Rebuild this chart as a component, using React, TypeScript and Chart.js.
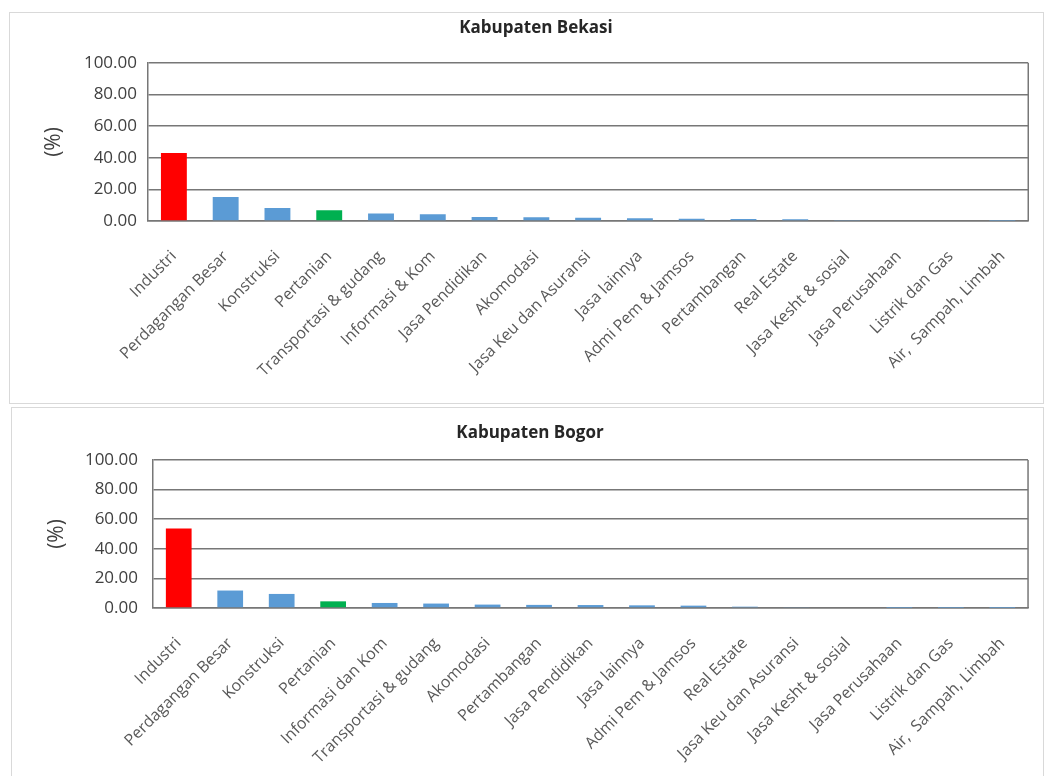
import React, { useEffect, useRef } from 'react';
import { Chart, registerables } from 'chart.js';

Chart.register(...registerables);

// ---- Data ----
const bekasiLabels = [
  'Industri', 'Perdagangan Besar', 'Konstruksi', 'Pertanian', 'Transportasi & gudang',
  'Informasi & Kom', 'Jasa Pendidikan', 'Akomodasi', 'Jasa Keu dan Asuransi', 'Jasa lainnya',
  'Admi Pem & Jamsos', 'Pertambangan', 'Real Estate', 'Jasa Kesht & sosial', 'Jasa Perusahaan',
  'Listrik dan Gas', 'Air,  Sampah, Limbah',
];
const bekasiValues = [43.0, 15.2, 8.3, 6.8, 4.7, 4.3, 2.5, 2.4, 2.1, 1.7, 1.5, 1.3, 1.1, 0.7, 0.4, 0.4, 0.1];

const bogorLabels = [
  'Industri', 'Perdagangan Besar', 'Konstruksi', 'Pertanian', 'Informasi dan Kom',
  'Transportasi & gudang', 'Akomodasi', 'Pertambangan', 'Jasa Pendidikan', 'Jasa lainnya',
  'Admi Pem & Jamsos', 'Real Estate', 'Jasa Keu dan Asuransi', 'Jasa Kesht & sosial',
  'Jasa Perusahaan', 'Listrik dan Gas', 'Air,  Sampah, Limbah',
];
const bogorValues = [53.8, 11.8, 9.5, 4.5, 3.4, 3.0, 2.3, 2.1, 2.0, 1.8, 1.6, 0.9, 0.6, 0.5, 0.1, 0.1, 0.05];

const yMin = 0;
const yMax = 100;
const yStep = 20;
const yAxisTitle = '(%)';

const highlightColors: Record<string, string> = { Industri: '#FF0000', Pertanian: '#00B050' };
const baseColor = '#5B9BD5';
const gridColor = '#777777';
const textColor = '#404040';
const labelColor = '#595959';
const FONT = "'Open Sans', 'Noto Sans', sans-serif";

type PanelProps = {
  title: string;
  labels: string[];
  values: number[];
  box: { left: number; top: number; width: number; height: number; noBottom?: boolean };
  canvasW: number;
  canvasH: number;
  yWidth: number;
  xHeight: number;
  padTop: number;
  padRight: number;
  yTickPad: number;
  yTitlePad: number;
  titleX: number;
  titleTop: number;
};

const rightFrame = {
  id: 'rightFrame',
  beforeDatasetsDraw(chart: any) {
    const { ctx, chartArea } = chart;
    ctx.save();
    ctx.strokeStyle = gridColor;
    ctx.lineWidth = 1.5;
    ctx.beginPath();
    ctx.moveTo(chartArea.right, chartArea.top);
    ctx.lineTo(chartArea.right, chartArea.bottom);
    ctx.stroke();
    ctx.restore();
  },
};

function BarPanel(p: PanelProps) {
  const ref = useRef<HTMLCanvasElement | null>(null);
  useEffect(() => {
    if (!ref.current) return;
    const chart = new Chart(ref.current, {
      type: 'bar',
      data: {
        labels: p.labels,
        datasets: [
          {
            data: p.values,
            backgroundColor: p.labels.map((l) => highlightColors[l] || baseColor),
            borderWidth: 0,
            barPercentage: 0.5,
            categoryPercentage: 1,
          },
        ],
      },
      options: {
        responsive: false,
        animation: false,
        devicePixelRatio: 1,
        layout: { padding: { top: p.padTop, right: p.padRight, left: 0, bottom: 0 } },
        plugins: { legend: { display: false }, tooltip: { enabled: false }, title: { display: false } },
        scales: {
          x: {
            grid: { display: false, drawTicks: false },
            border: { display: true, color: gridColor, width: 1.5 },
            ticks: {
              autoSkip: false,
              maxRotation: 45,
              minRotation: 45,
              padding: 26,
              color: labelColor,
              font: { family: FONT, size: 16 },
            },
            afterFit: (s: any) => {
              s.height = p.xHeight;
            },
          },
          y: {
            min: yMin,
            max: yMax,
            ticks: {
              stepSize: yStep,
              padding: p.yTickPad,
              color: textColor,
              font: { family: FONT, size: 17 },
              callback: (v: any) => Number(v).toFixed(2),
            },
            grid: { color: gridColor, lineWidth: 1.5, drawTicks: false },
            border: { display: true, color: gridColor, width: 1.5 },
            title: {
              display: true,
              text: yAxisTitle,
              color: textColor,
              font: { family: FONT, size: 21 },
              padding: { top: p.yTitlePad, bottom: 0 },
            },
            afterFit: (s: any) => {
              s.width = p.yWidth;
            },
          },
        },
      },
      plugins: [rightFrame],
    } as any);
    return () => chart.destroy();
  }, []);

  return (
    <div
      style={{
        position: 'absolute',
        left: p.box.left,
        top: p.box.top,
        width: p.box.width,
        height: p.box.height,
        boxSizing: 'border-box',
        border: '1px solid #d9d9d9',
        borderBottom: p.box.noBottom ? 'none' : '1px solid #d9d9d9',
        background: '#fff',
      }}
    >
      <canvas
        ref={ref}
        width={p.canvasW}
        height={p.canvasH}
        style={{ position: 'absolute', left: 0, top: 0, width: p.canvasW, height: p.canvasH }}
      />
      <div
        style={{
          position: 'absolute',
          left: p.titleX - p.box.left - 1,
          top: p.titleTop - p.box.top - 1,
          transform: 'translateX(-50%)',
          whiteSpace: 'nowrap',
          fontFamily: FONT,
          fontWeight: 700,
          fontSize: 17,
          lineHeight: '20px',
          color: '#262626',
        }}
      >
        {p.title}
      </div>
    </div>
  );
}

export default function App() {
  return (
    <div style={{ position: 'absolute', left: 0, top: 0, width: 1044, height: 776, overflow: 'hidden' }}>
      <BarPanel
        title="Kabupaten Bekasi"
        labels={bekasiLabels}
        values={bekasiValues}
        box={{ left: 9, top: 12, width: 1035, height: 392 }}
        canvasW={1032}
        canvasH={389}
        yWidth={138}
        xHeight={181}
        padTop={50}
        padRight={2}
        yTickPad={11}
        yTitlePad={31}
        titleX={536}
        titleTop={17}
      />
      <BarPanel
        title="Kabupaten Bogor"
        labels={bogorLabels}
        values={bogorValues}
        box={{ left: 11, top: 407, width: 1033, height: 369, noBottom: true }}
        canvasW={1030}
        canvasH={368}
        yWidth={141}
        xHeight={168}
        padTop={52}
        padRight={4}
        yTickPad={15}
        yTitlePad={32}
        titleX={530}
        titleTop={422}
      />
    </div>
  );
}
